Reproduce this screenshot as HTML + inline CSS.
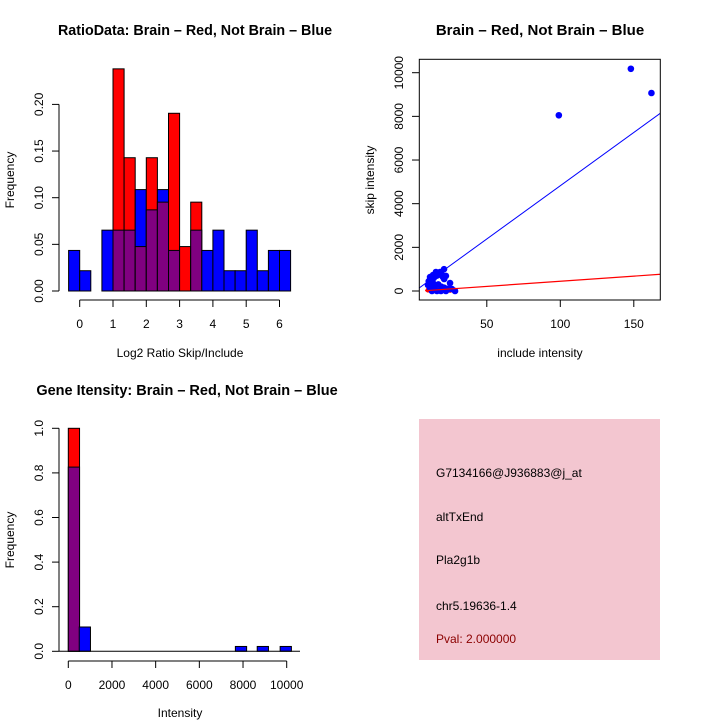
<!DOCTYPE html>
<html><head><meta charset="utf-8"><style>
body{margin:0;background:#fff}
svg{display:block;font-family:"Liberation Sans",Helvetica,sans-serif}
</style></head><body>
<svg id="c" width="720" height="720" viewBox="0 0 720 720">
<rect width="720" height="720" fill="#fff"/>
<text x="195" y="35" text-anchor="middle" font-size="14.3" font-weight="bold">RatioData: Brain – Red, Not Brain – Blue</text>
<text x="540" y="35" text-anchor="middle" font-size="15" font-weight="bold">Brain – Red, Not Brain – Blue</text>
<text x="187" y="395" text-anchor="middle" font-size="14.5" font-weight="bold">Gene Itensity: Brain – Red, Not Brain – Blue</text>
<text x="180" y="357" text-anchor="middle" font-size="12">Log2 Ratio Skip/Include</text>
<text x="14" y="180" text-anchor="middle" font-size="12" transform="rotate(-90 14 180)">Frequency</text>
<text x="540" y="357" text-anchor="middle" font-size="12">include intensity</text>
<text x="374" y="180" text-anchor="middle" font-size="12" transform="rotate(-90 374 180)">skip intensity</text>
<text x="180" y="717" text-anchor="middle" font-size="12">Intensity</text>
<text x="14" y="540" text-anchor="middle" font-size="12" transform="rotate(-90 14 540)">Frequency</text>
<g id="p1"></g><g id="p2"></g><g id="p3"></g>
<g>
<rect x="419" y="419" width="241" height="241" fill="#f3c6d0"/>
<text x="436" y="477" font-size="12">G7134166@J936883@j_at</text>
<text x="436" y="521" font-size="12">altTxEnd</text>
<text x="436" y="564" font-size="12">Pla2g1b</text>
<text x="436" y="610" font-size="12">chr5.19636-1.4</text>
<text x="436" y="643" font-size="12" fill="#8b0000">Pval: 2.000000</text>
</g>
</svg>
<script>
// Panel 1: ratio histogram (bins of 1/3 from -1/3)
const ratioBinStart = -1/3;
const ratioBinWidth = 1/3;
const ratioBlue = [2,1,0,3,3,3,5,4,5,2,0,3,2,3,1,1,3,1,2,2];
const ratioBlueN = 46;
const ratioRed = [0,0,0,0,5,3,1,3,2,4,1,2,0,0,0,0,0,0,0,0];
const ratioRedN = 21;
const ratioXTicks = [0,1,2,3,4,5,6];
const ratioYTicks = ["0.00","0.05","0.10","0.15","0.20"];
// Panel 2: scatter
const incBlue = [10,11.4,13.4,15.4,18.2,20.9,22.2,25,26.3,28.4,16.1,12.7,18.8,22.2,24.3,11.4,13.4,10.5,12,14,16,17,19,20,21,23,13,15,17,19,21,99,148,162];
const skipBlue = [275,640,730,870,870,1000,690,365,90,0,0,0,0,0,90,140,365,450,550,600,700,750,800,650,550,100,200,250,300,200,150,8050,10180,9070];
const incRed = [10,13,16,19,22,25,28];
const skipRed = [40,30,60,20,50,30,40];
const blueFit = [-58,48.8];
const redFit = [-23,4.69];
const scatterXTicks = [50,100,150];
const scatterYTicks = [0,2000,4000,6000,8000,10000];
// Panel 3: intensity histogram
const intRedStart = [0];
const intRedFreq = [1.0];
const intBlueStart = [0,500,7650,8650,9700];
const intBlueFreq = [0.826,0.109,0.0217,0.0217,0.0217];
const intBinWidth = 515;
const intXTicks = [0,2000,4000,6000,8000,10000];
const intYTicks = [0,0.2,0.4,0.6,0.8,1.0];

const NS="http://www.w3.org/2000/svg";
function mk(p,t,a){const e=document.createElementNS(NS,t);for(const k in a)e.setAttribute(k,a[k]);p.appendChild(e);return e;}

// ---- panel 1
const p1=document.getElementById('p1');
const x1=v=>79.7+v*33.3, y1=v=>291+-v*933;
for(let i=0;i<ratioBlue.length;i++){
  const b=ratioBlue[i]/ratioBlueN, r=ratioRed[i]/ratioRedN;
  const xa=x1(ratioBinStart+i*ratioBinWidth), w=ratioBinWidth*33.3;
  const hi=Math.max(b,r), lo=Math.min(b,r);
  if(hi>0){
    const e=mk(p1,'rect',{x:xa,y:y1(hi),width:w,height:y1(0)-y1(hi),fill:b>=r?'#0000ff':'#ff0000',stroke:'#000','stroke-width':1});
    
    
  }
  if(lo>0){
    const e=mk(p1,'rect',{x:xa,y:y1(lo),width:w,height:y1(0)-y1(lo),fill:'#800080',stroke:'#000','stroke-width':1});
    
    
  }
}
mk(p1,'line',{x1:x1(0),x2:x1(6),y1:300,y2:300,stroke:'#000'});
ratioXTicks.forEach(t=>{mk(p1,'line',{x1:x1(t),x2:x1(t),y1:300,y2:307,stroke:'#000'});
  const e=mk(p1,'text',{x:x1(t),y:328,'text-anchor':'middle','font-size':12});e.textContent=t;
  
  });
mk(p1,'line',{x1:59,x2:59,y1:y1(0),y2:y1(0.2),stroke:'#000'});
ratioYTicks.forEach(t=>{const y=y1(+t);mk(p1,'line',{x1:52,x2:59,y1:y,y2:y,stroke:'#000'});
  const e=mk(p1,'text',{x:43,y:y,'text-anchor':'middle','font-size':12,transform:`rotate(-90 43 ${y})`});e.textContent=t;
  
  });

// ---- panel 2
const p2=document.getElementById('p2');
const x2=v=>413.3+v*1.47, y2=v=>291-v*0.02183;
const cp=mk(p2,'clipPath',{id:'cl'});mk(cp,'rect',{x:419.3,y:59.3,width:241,height:240.7});
incRed.forEach((v,i)=>{const e=mk(p2,'circle',{cx:x2(v),cy:y2(skipRed[i]),r:2.5,fill:'#ff0000'});
  
  });
incBlue.forEach((v,i)=>{const e=mk(p2,'circle',{cx:x2(v),cy:y2(skipBlue[i]),r:3.3,fill:'#0000ff'});
  
  });
let e2=mk(p2,'line',{x1:x2(4),y1:y2(blueFit[0]+blueFit[1]*4),x2:x2(170),y2:y2(blueFit[0]+blueFit[1]*170),stroke:'#0000ff','stroke-width':1,'clip-path':'url(#cl)'});


e2=mk(p2,'line',{x1:x2(8),y1:y2(redFit[0]+redFit[1]*8),x2:x2(170),y2:y2(redFit[0]+redFit[1]*170),stroke:'#ff0000','stroke-width':1.2,'clip-path':'url(#cl)'});


mk(p2,'rect',{x:419.3,y:59.3,width:241,height:240.7,fill:'none',stroke:'#000'});
scatterXTicks.forEach(t=>{mk(p2,'line',{x1:x2(t),x2:x2(t),y1:300,y2:307,stroke:'#000'});
  const e=mk(p2,'text',{x:x2(t),y:328,'text-anchor':'middle','font-size':12});e.textContent=t;
  
  });
scatterYTicks.forEach(t=>{const y=y2(t);mk(p2,'line',{x1:412,x2:419,y1:y,y2:y,stroke:'#000'});
  const e=mk(p2,'text',{x:403,y:y,'text-anchor':'middle','font-size':12,transform:`rotate(-90 403 ${y})`});e.textContent=t;
  
  });

// ---- panel 3
const p3=document.getElementById('p3');
const x3=v=>68.3+v*0.02184, y3=v=>651.3-v*223;
intBlueStart.forEach((s,i)=>{
  const b=intBlueFreq[i]; const ri=intRedStart.indexOf(s); const r=ri>=0?intRedFreq[ri]:0;
  const hi=Math.max(b,r), lo=Math.min(b,r), xa=x3(s), w=intBinWidth*0.02184;
  let e=mk(p3,'rect',{x:xa,y:y3(hi),width:w,height:y3(0)-y3(hi),fill:b>=r?'#0000ff':'#ff0000',stroke:'#000'});
  
  
  if(lo>0){e=mk(p3,'rect',{x:xa,y:y3(lo),width:w,height:y3(0)-y3(lo),fill:'#800080',stroke:'#000'});
    
    }
});
mk(p3,'line',{x1:59,x2:300,y1:651.3,y2:651.3,stroke:'#000'});
mk(p3,'line',{x1:x3(0),x2:x3(10000),y1:661,y2:661,stroke:'#000'});
intXTicks.forEach(t=>{mk(p3,'line',{x1:x3(t),x2:x3(t),y1:661,y2:668,stroke:'#000'});
  const e=mk(p3,'text',{x:x3(t),y:689,'text-anchor':'middle','font-size':12});e.textContent=t;
  
  });
mk(p3,'line',{x1:59,x2:59,y1:y3(0),y2:y3(1),stroke:'#000'});
intYTicks.forEach(t=>{const y=y3(t);mk(p3,'line',{x1:52,x2:59,y1:y,y2:y,stroke:'#000'});
  const e=mk(p3,'text',{x:43,y:y,'text-anchor':'middle','font-size':12,transform:`rotate(-90 43 ${y})`});e.textContent=t.toFixed(1);
  
  });
</script>
</body></html>
